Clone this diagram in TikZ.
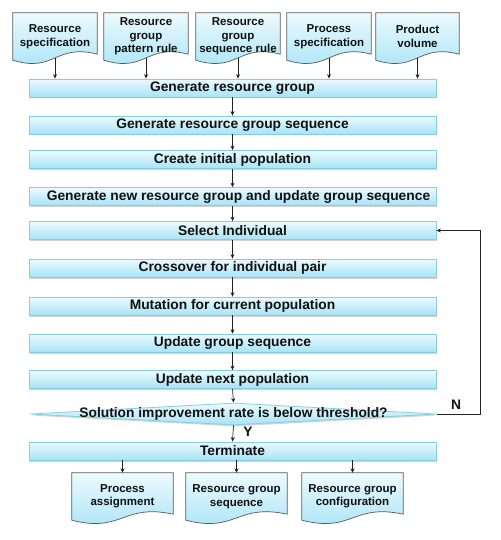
\documentclass[tikz,border=0pt]{standalone}
\usepackage{fontspec}
\setmainfont{Liberation Sans}
\usetikzlibrary{shapes.geometric,shadows,arrows.meta,calc,backgrounds}
\definecolor{barline}{HTML}{86CFE3}
\definecolor{topc}{HTML}{EDFAFE}
\definecolor{botc}{HTML}{A6E3F6}
\definecolor{docline}{HTML}{5A5A5A}
\definecolor{arrc}{HTML}{222222}
\definecolor{txt}{HTML}{111111}
\tikzset{
  bar/.style={rectangle, draw=barline, line width=0.8pt, top color=topc, bottom color=botc,
    minimum width=407pt, minimum height=18pt, inner sep=0pt, text=txt,
    font=\bfseries\fontsize{13.8}{16}\selectfont,
    drop shadow={shadow xshift=1pt, shadow yshift=-1.5pt, opacity=0.35}},
  dia/.style={diamond, draw=barline, line width=0.8pt, top color=topc, bottom color=botc,
    minimum width=407pt, minimum height=22pt, inner sep=0pt,
    drop shadow={shadow xshift=1pt, shadow yshift=-1.5pt, opacity=0.35}},
  dectext/.style={inner sep=0pt, text=txt, font=\bfseries\fontsize{13.8}{16}\selectfont},
  doctext/.style={rectangle, minimum height=47pt, inner sep=0pt, align=center, text=txt,
    font=\bfseries\fontsize{11.5}{13.5}\selectfont},
  docsh/.style={draw=docline, line width=0.7pt, top color=topc, bottom color=botc},
  arr/.style={draw=arrc, line width=0.7pt, -{Stealth[length=4.5pt,width=4pt]}},
  lab/.style={inner sep=0pt, text=txt, font=\bfseries\fontsize{13.8}{16}\selectfont}
}
\newcommand\mydoc[1]{%
  \begin{scope}[on background layer]
    \shade[docsh] (#1.north west) -- (#1.north east) -- ($(#1.south east)+(0,6)$)
      .. controls ($(#1.south)+(0,17)$) and ($(#1.south)+(0,-13)$) .. (#1.south west) -- cycle;
  \end{scope}}
\begin{document}
\begin{tikzpicture}[x=1pt,y=1pt]
\useasboundingbox (0,0) rectangle (500,-540);
% top documents
\node[doctext, minimum width=84pt] (d1) at (55,-36.5) {Resource\\specification};
\node[doctext, minimum width=84pt] (d2) at (146,-36.5) {Resource\\group\\pattern rule};
\node[doctext, minimum width=84pt] (d3) at (238,-36.5) {Resource\\group\\sequence rule};
\node[doctext, minimum width=84pt] (d4) at (329,-36.5) {Process\\specification};
\node[doctext, minimum width=83pt] (d5) at (417.5,-36.5) {Product\\volume};
\mydoc{d1}\mydoc{d2}\mydoc{d3}\mydoc{d4}\mydoc{d5}
% process bars
\node[bar] (b1) at (232.5,-88) {Generate resource group};
\node[bar] (b2) at (232.5,-125) {Generate resource group sequence};
\node[bar] (b3) at (232.5,-159.5) {Create initial population};
\node[bar] (b4) at (232.5,-196.5) {\hspace*{12pt}Generate new resource group and update group sequence};
\node[bar] (b5) at (232.5,-230.5) {Select Individual};
\node[bar] (b6) at (232.5,-268) {Crossover for individual pair};
\node[bar] (b7) at (232.5,-306) {Mutation for current population};
\node[bar] (b8) at (232.5,-343) {Update group sequence};
\node[bar] (b9) at (232.5,-379.5) {Update next population};
\node[dia] (dec) at (233.5,-414) {};
\node[dectext] (dect) at (dec.center) {Solution improvement rate is below threshold?};
\node[bar] (term) at (232.5,-451) {Terminate};
% bottom documents
\node[doctext, minimum width=101pt] (o1) at (122.5,-496.5) {Process\\assignment};
\node[doctext, minimum width=101pt] (o2) at (236.5,-496.5) {Resource group\\sequence};
\node[doctext, minimum width=101pt] (o3) at (352.5,-496.5) {Resource group\\configuration};
\mydoc{o1}\mydoc{o2}\mydoc{o3}
% arrows from inputs
\foreach \d in {d1,d2,d3,d4,d5}{
  \draw[arr] ($(\d.south)+(0,2)$) -- (\d.south |- b1.north);
}
% spine
\draw[arr] (b1) -- (b2);
\draw[arr] (b2) -- (b3);
\draw[arr] (b3) -- (b4);
\draw[arr] (b4) -- (b5);
\draw[arr] (b5) -- (b6);
\draw[arr] (b6) -- (b7);
\draw[arr] (b7) -- (b8);
\draw[arr] (b8) -- (b9);
\draw[arr] (b9.south) -- (dec.north);
\draw[arr] (dec.south) -- (term.north);
% feedback
\coordinate (fb) at (480,-414);
\draw[arr] (dec.east) -- (fb) |- (b5.east);
\node[lab] (nl) at (456,-405) {N};
\node[lab] (yl) at (248,-432) {Y};
% outputs
\foreach \o in {o1,o2,o3}{
  \draw[arr] (term.south -| \o.north) -- (\o.north);
}
\end{tikzpicture}
\end{document}
